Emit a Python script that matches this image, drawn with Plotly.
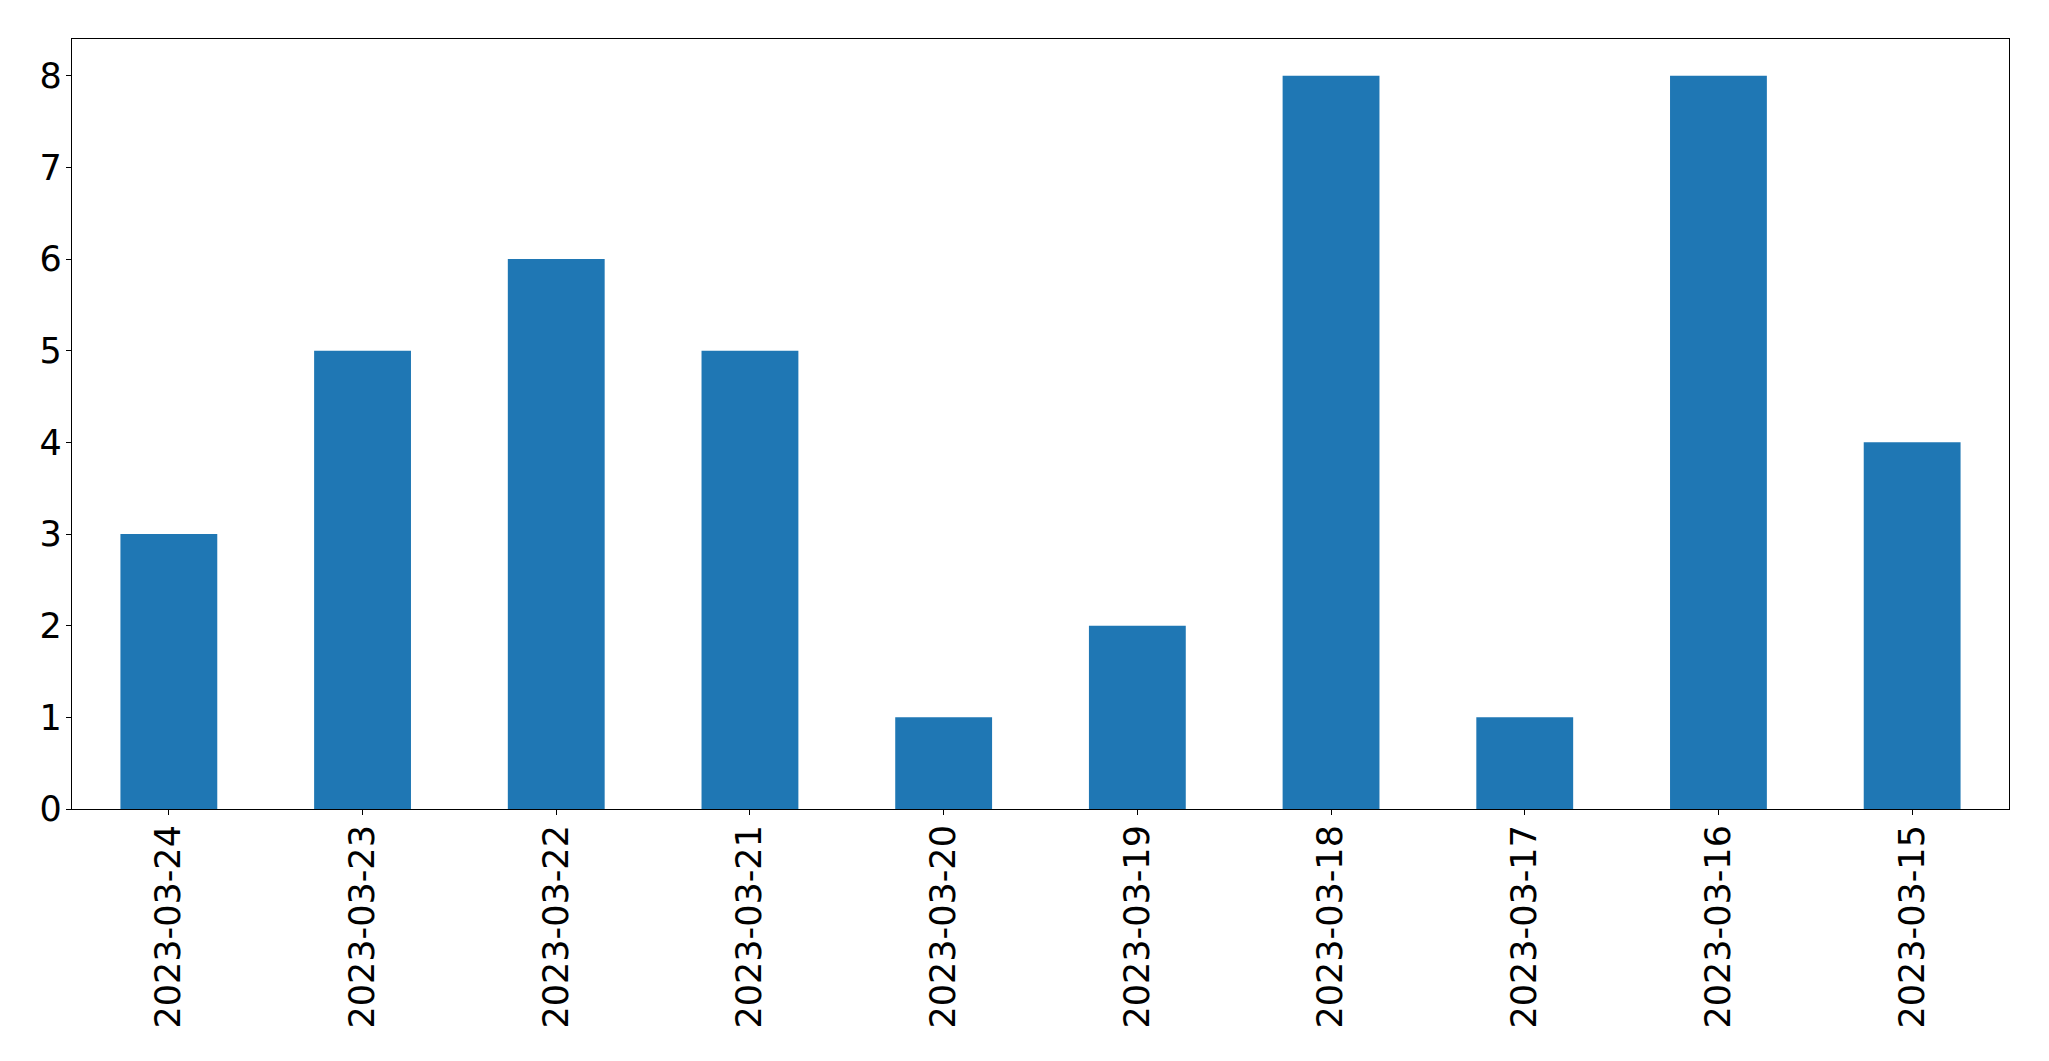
import plotly.graph_objects as go

dates = ["2023-03-24", "2023-03-23", "2023-03-22", "2023-03-21", "2023-03-20",
         "2023-03-19", "2023-03-18", "2023-03-17", "2023-03-16", "2023-03-15"]
counts = [3, 5, 6, 5, 1, 2, 8, 1, 8, 4]
y_ticks = [0, 1, 2, 3, 4, 5, 6, 7, 8]

fig = go.Figure(go.Bar(x=dates, y=counts, marker_color="#1f77b4", width=0.5,
                       marker_line_width=0))

axis_common = dict(showline=True, linecolor="black", linewidth=1.2, mirror=True,
                   ticks="outside", ticklen=5, tickwidth=1.2, tickcolor="black",
                   showgrid=False, zeroline=False, automargin=False,
                   tickfont=dict(family="DejaVu Sans", size=35, color="black"))

# page body has an 8px default margin, so the figure is drawn 16px smaller
fig.update_layout(
    width=2033, height=1045,
    margin=dict(l=64, r=32, t=31, b=244),
    plot_bgcolor="white", paper_bgcolor="white",
    showlegend=False,
    bargap=0.5,
)
fig.update_xaxes(type="category", range=[-0.5, 9.5], tickangle=-90,
                 ticklabelstandoff=-4, **axis_common)
fig.update_yaxes(range=[0, 8.4], tickvals=y_ticks, ticklabelstandoff=-3,
                 **axis_common)

fig.write_html("out.html")
